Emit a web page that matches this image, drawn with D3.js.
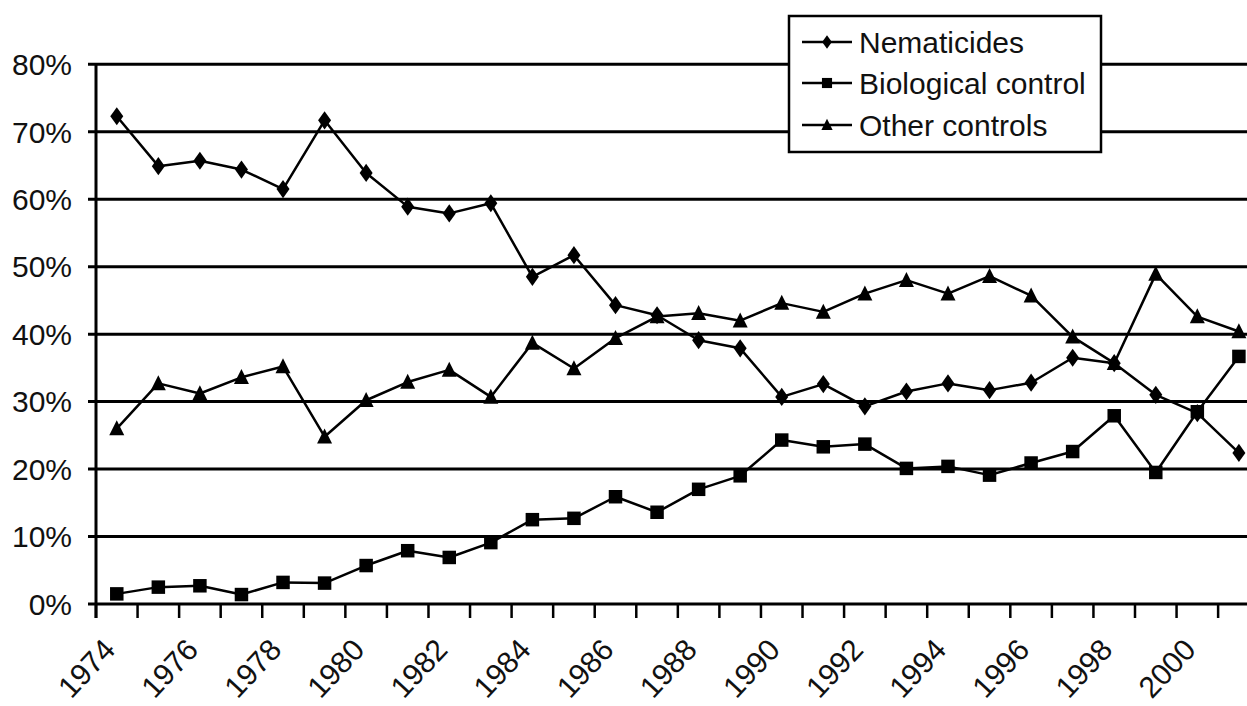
<!DOCTYPE html>
<html>
<head>
<meta charset="utf-8">
<script src="https://cdn.jsdelivr.net/npm/d3@7"></script>
<style>
  html, body { margin: 0; padding: 0; background: #fff; }
  svg { display: block; font-family: "Liberation Sans", Arial, Helvetica, sans-serif; }
</style>
</head>
<body>
<div id="chart"></div>
<script>
// data (share of treatments, %)
const years = d3.range(1974, 2002);
const yearLabels = years.filter(y => y % 2 === 0);
const yTicks = [0, 10, 20, 30, 40, 50, 60, 70, 80];

const nematicides = [72.3, 64.9, 65.7, 64.4, 61.5, 71.7, 63.9, 58.9, 57.9, 59.4,
                     48.5, 51.7, 44.3, 42.8, 39.1, 37.9, 30.7, 32.6, 29.3, 31.5,
                     32.7, 31.7, 32.8, 36.5, 35.7, 31.0, 28.3, 22.4];
const biological  = [1.5, 2.5, 2.7, 1.4, 3.2, 3.1, 5.7, 7.9, 6.9, 9.1,
                     12.5, 12.7, 15.9, 13.6, 17.0, 19.0, 24.3, 23.3, 23.7, 20.1,
                     20.4, 19.1, 20.9, 22.6, 27.9, 19.5, 28.5, 36.7];
const otherCtrl   = [26.0, 32.7, 31.2, 33.6, 35.2, 24.8, 30.2, 32.9, 34.7, 30.7,
                     38.7, 34.9, 39.4, 42.6, 43.1, 42.0, 44.6, 43.3, 46.0, 48.0,
                     46.0, 48.6, 45.7, 39.6, 35.7, 48.9, 42.6, 40.4];

const seriesNames = ["Nematicides", "Biological control", "Other controls"];

const W = 1247, H = 706;
const plotLeft = 96, plotTop = 64.3, plotBottom = 604;
const band = 41.56;

const svg = d3.select("#chart").append("svg").attr("width", W).attr("height", H);

const x = d3.scaleBand().domain(years).range([plotLeft, plotLeft + band * years.length]);
const y = d3.scaleLinear().domain([0, 80]).range([plotBottom, plotTop]);

// marker shapes
const shapes = {
    diamond: s => `M0,${-s * 0.7}L${s * 0.5},0L0,${s * 0.7}L${-s * 0.5},0Z`,
    square: s => `M${-s / 2},${-s / 2}h${s}v${s}h${-s}Z`,
    triangle: s => `M0,${-s * 0.55}L${s * 0.5},${s * 0.45}L${-s * 0.5},${s * 0.45}Z`
};

const series = [
    { name: seriesNames[0], values: nematicides, shape: "diamond", size: 13 },
    { name: seriesNames[1], values: biological, shape: "square", size: 13.5 },
    { name: seriesNames[2], values: otherCtrl, shape: "triangle", size: 15 }
];

// gridlines + y labels
const grid = svg.append("g");
grid.selectAll("line").data(yTicks).enter().append("line")
    .attr("x1", plotLeft - 8).attr("x2", W)
    .attr("y1", d => y(d)).attr("y2", d => y(d))
    .attr("stroke", "#000").attr("stroke-width", 3);

grid.selectAll("text").data(yTicks).enter().append("text")
    .attr("x", 72).attr("y", d => y(d)).attr("dy", "0.36em")
    .attr("text-anchor", "end").style("font-size", "30px").attr("fill", "#111")
    .text(d => d + "%");

// y axis line
svg.append("line").attr("x1", plotLeft).attr("x2", plotLeft).attr("y1", plotTop - 1).attr("y2", plotBottom + 14)
    .attr("stroke", "#000").attr("stroke-width", 3);

// x axis ticks at band edges
const edges = years.map(d => x(d)).concat([x(years[years.length - 1]) + band]);
svg.append("g").selectAll("line").data(edges).enter().append("line")
    .attr("x1", d => d).attr("x2", d => d).attr("y1", plotBottom).attr("y2", plotBottom + 14)
    .attr("stroke", "#000").attr("stroke-width", 2.5);

// x labels, rotated
svg.append("g").selectAll("text").data(yearLabels).enter().append("text")
    .attr("transform", d => `translate(${x(d) + band / 2},${651}) rotate(-47)`)
    .attr("text-anchor", "end").style("font-size", "30px").attr("fill", "#111")
    .text(d => d);

// series lines and markers
const line = d3.line().x((d, i) => x(years[i]) + band / 2).y(d => y(d));

series.forEach(s => {
    svg.append("path").datum(s.values)
        .attr("fill", "none").attr("stroke", "#000").attr("stroke-width", 2.5)
        .attr("stroke-linejoin", "round").attr("d", line);

    svg.append("g").selectAll("path").data(s.values).enter().append("path")
        .attr("transform", (d, i) => `translate(${x(years[i]) + band / 2},${y(d)})`)
        .attr("d", shapes[s.shape](s.size)).attr("fill", "#000");
});

// legend
const lg = svg.append("g");
lg.append("rect").attr("x", 789).attr("y", 16).attr("width", 312).attr("height", 136)
    .attr("fill", "#fff").attr("stroke", "#000").attr("stroke-width", 2.5);

const legendY = [42, 83, 125];
series.forEach((s, i) => {
    const row = lg.append("g").attr("transform", `translate(0,${legendY[i]})`);
    row.append("line").attr("x1", 802).attr("x2", 852).attr("y1", 0).attr("y2", 0)
        .attr("stroke", "#000").attr("stroke-width", 2.5);
    row.append("path").attr("transform", "translate(827,0)")
        .attr("d", shapes[s.shape](s.size * 0.75)).attr("fill", "#000");
    row.append("text").attr("x", 859).attr("y", 0).attr("dy", "0.36em")
        .style("font-size", "30px").attr("fill", "#111").text(s.name);
});
</script>
</body>
</html>
